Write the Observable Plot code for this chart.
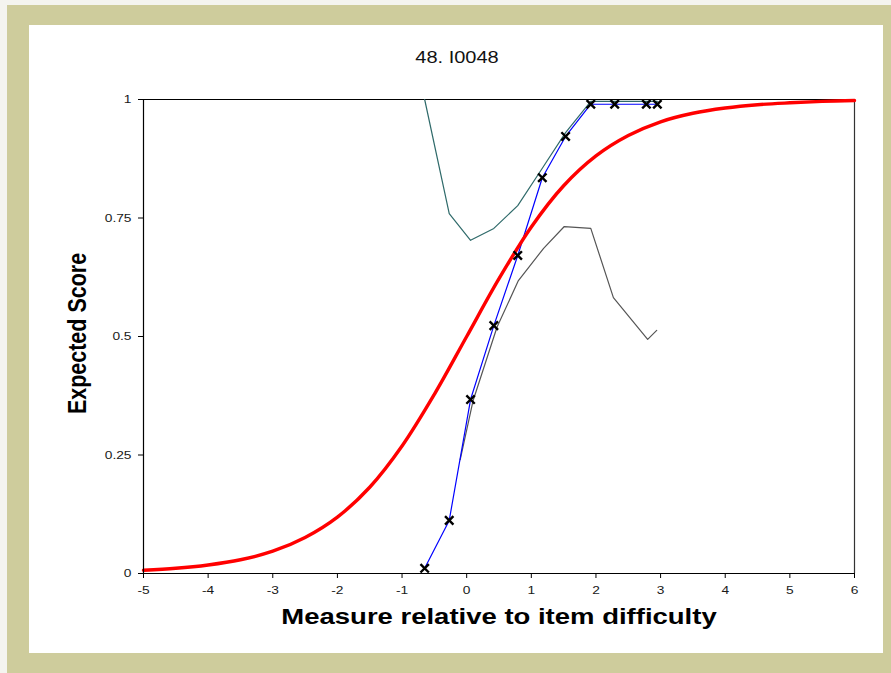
<!DOCTYPE html>
<html>
<head>
<meta charset="utf-8">
<script src="https://cdn.jsdelivr.net/npm/d3@7"></script>
<script src="https://cdn.jsdelivr.net/npm/@observablehq/plot@0.6"></script>
<style>
  html, body { margin: 0; padding: 0; background: #f4f4ef; }
  #wrap { position: relative; width: 891px; height: 673px; overflow: hidden; }
  #khaki { position: absolute; left: 7px; top: 5px; width: 884px; height: 668px; background: #cecc9c; }
  #panel { position: absolute; left: 29px; top: 25px; width: 854px; height: 628px; background: #ffffff; }
  #chart { position: absolute; left: 0; top: 0; }
</style>
</head>
<body>
<div id="wrap">
  <div id="khaki"></div>
  <div id="panel"></div>
  <div id="chart"></div>
</div>
<script>
// ---- data ----
const title = "48. I0048";
const xLabel = "Measure relative to item difficulty";
const yLabel = "Expected Score";
const xTicks = [-5, -4, -3, -2, -1, 0, 1, 2, 3, 4, 5, 6];
const yTicks = [0, 0.25, 0.5, 0.75, 1];

// model expected score curve (red)
const modelX = [-5, -4.5, -4, -3.5, -3, -2.5, -2, -1.5, -1, -0.5, 0, 0.5, 1, 1.5, 2, 2.5, 3, 3.5, 4, 4.5, 5, 5.5, 6];
const modelY = [0.007, 0.011, 0.018, 0.029, 0.047, 0.076, 0.119, 0.182, 0.269, 0.378, 0.5, 0.622, 0.731, 0.818, 0.881, 0.924, 0.953, 0.971, 0.982, 0.989, 0.993, 0.996, 0.998];

// observed empirical scores (blue with x markers)
const obsX = [-0.65, -0.27, 0.06, 0.42, 0.79, 1.17, 1.53, 1.92, 2.29, 2.78, 2.95];
const obsY = [0.011, 0.112, 0.367, 0.523, 0.671, 0.835, 0.922, 0.99, 0.99, 0.99, 0.99];

// upper confidence band (teal)
const upperX = [-0.65, -0.27, 0.06, 0.42, 0.79, 1.17, 1.53, 1.92, 2.29, 2.78, 2.95];
const upperY = [1.0, 0.759, 0.703, 0.728, 0.776, 0.855, 0.93, 0.996, 0.996, 0.996, 0.996];

// lower confidence band (gray)
const lowerX = [-0.10, 0.10, 0.47, 0.80, 1.19, 1.51, 1.92, 2.27, 2.80, 2.94];
const lowerY = [0.24, 0.365, 0.52, 0.618, 0.686, 0.732, 0.728, 0.582, 0.494, 0.513];

const zip = (xs, ys) => xs.map((x, i) => ({x, y: ys[i]}));
const model = zip(modelX, modelY);
const observed = zip(obsX, obsY);
const upper = zip(upperX, upperY);
const lower = zip(lowerX, lowerY);

const FONT = "'Liberation Sans', Arial, Helvetica, sans-serif";

const chart = Plot.plot({
  width: 891,
  height: 673,
  marginLeft: 143,
  marginRight: 37,
  marginTop: 99,
  marginBottom: 100,
  style: {background: "transparent", fontFamily: FONT, fontSize: "11px", color: "#1a1a1a"},
  x: {domain: [-5, 6]},
  y: {domain: [0, 1]},
  marks: [
    Plot.axisX({ticks: xTicks, tickSize: 5, tickPadding: 8, tickFormat: d => String(d), label: null, stroke: "#000"}),
    Plot.axisY({ticks: yTicks, tickSize: 5, tickPadding: 7, tickFormat: d => String(d), label: null, stroke: "#000"}),
    Plot.ruleY([1], {stroke: "#000", strokeWidth: 1}),
    Plot.ruleX([6], {stroke: "#333", strokeWidth: 1.2}),
    Plot.line(upper, {x: "x", y: "y", stroke: "#2f6a6a", strokeWidth: 1.2}),
    Plot.line(lower, {x: "x", y: "y", stroke: "#555555", strokeWidth: 1.2}),
    Plot.line(observed, {x: "x", y: "y", stroke: "#0000ff", strokeWidth: 1.2}),
    Plot.line(model, {x: "x", y: "y", stroke: "#ff0000", strokeWidth: 3.4, curve: "catmull-rom"}),
    Plot.ruleX([-5], {stroke: "#000", strokeWidth: 1.2}),
    Plot.ruleY([0], {stroke: "#000", strokeWidth: 1.2}),
    Plot.dot(observed, {x: "x", y: "y", symbol: "times", r: 3.9, stroke: "#000", strokeWidth: 2.4}),
    Plot.text([title], {frameAnchor: "top", dx: -42, dy: -42, fontSize: 16, fill: "#111", lineAnchor: "middle"}),
    Plot.text([xLabel], {frameAnchor: "bottom", dy: 43, fontSize: 22, fontWeight: "bold", fill: "#000", lineAnchor: "middle"}),
    Plot.text([yLabel], {frameAnchor: "left", dx: -66, dy: -3, rotate: -90, textAnchor: "middle", fontSize: 21.5, fontWeight: "bold", fill: "#000", lineAnchor: "middle"})
  ]
});

// the original picture is stretched horizontally; mimic it on the text
d3.select(chart).selectAll("text").each(function() {
  const t = this.getAttribute("transform") || "";
  const x = +(this.getAttribute("x") || 0);
  if (this.textContent === yLabel) {
    this.setAttribute("transform", t + " scale(1,1.22)");
  } else {
    this.setAttribute("transform", t + ` translate(${x},0) scale(1.25,1) translate(${-x},0)`);
  }
});

document.getElementById("chart").appendChild(chart);
</script>
</body>
</html>
